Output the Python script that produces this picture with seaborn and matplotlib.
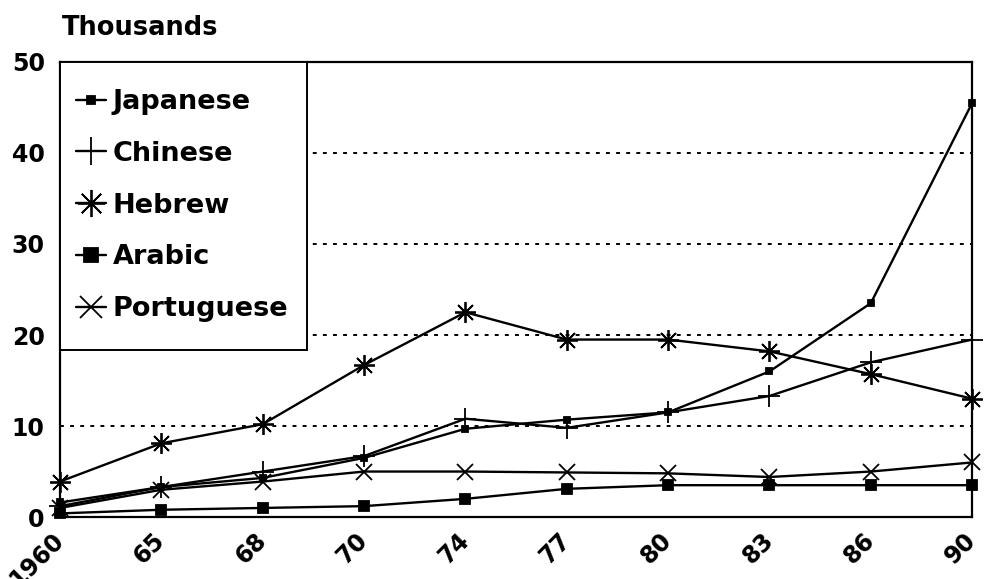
import matplotlib
matplotlib.use("Agg")
import matplotlib.pyplot as plt
from matplotlib.patches import Rectangle
import seaborn as sns

# values, thousands
years = ["1960", "65", "68", "70", "74", "77", "80", "83", "86", "90"]
japanese = [1.6, 3.3, 4.3, 6.5, 9.7, 10.7, 11.5, 16.0, 23.5, 45.5]
chinese = [1.2, 3.3, 5.0, 6.7, 10.8, 9.8, 11.5, 13.3, 17.0, 19.5]
hebrew = [3.9, 8.1, 10.2, 16.7, 22.5, 19.5, 19.5, 18.2, 15.7, 13.0]
arabic = [0.4, 0.8, 1.0, 1.2, 2.0, 3.1, 3.5, 3.5, 3.5, 3.5]
portuguese = [1.0, 3.0, 3.9, 5.0, 5.0, 4.9, 4.8, 4.4, 5.0, 6.0]

sns.set_style("white")
plt.rcParams["font.family"] = ["DejaVu Sans"]
plt.rcParams["font.weight"] = "bold"
plt.rcParams["text.color"] = "black"
plt.rcParams["xtick.color"] = "black"
plt.rcParams["ytick.color"] = "black"

fig = plt.figure(figsize=(9.84, 5.79), dpi=100)
ax = fig.add_axes([0.061, 0.107, 0.927, 0.786])

pos = list(range(len(years)))
series = [
    ("Japanese", japanese, "s", 4),
    ("Chinese", chinese, "+", 16),
    ("Hebrew", hebrew, (8, 2, 0), 15),
    ("Arabic", arabic, "s", 7.5),
    ("Portuguese", portuguese, "x", 12),
]
for name, vals, m, ms in series:
    sns.lineplot(x=pos, y=vals, ax=ax, color="black", linewidth=1.7,
                 marker=m, markersize=ms, markeredgewidth=1.3,
                 markeredgecolor="black", label=name, clip_on=False, zorder=3)

ax.set_xlim(0, len(years) - 1)
ax.set_ylim(0, 50)
ax.set_yticks([0, 10, 20, 30, 40, 50])
ax.set_xticks(pos)
ax.set_xticklabels(years, rotation=45, ha="right", va="center", rotation_mode="anchor")
ax.tick_params(axis="y", length=0, labelsize=17, pad=11)
ax.tick_params(axis="x", length=0, labelsize=17, pad=14)
for lab in ax.get_xticklabels() + ax.get_yticklabels():
    lab.set_fontweight("bold")

ax.grid(axis="y", color="black", linestyle=(0, (2, 3.2)), linewidth=1.4)
for s in ax.spines.values():
    s.set_color("black")
    s.set_linewidth(1.6)

fig.text(0.063, 0.94, "Thousands", fontsize=18.5, fontweight="bold")

# legend box drawn separately so it can be taller than its padding allows
ax.add_patch(Rectangle((0, 0.368), 0.271, 0.632, transform=ax.transAxes,
                       facecolor="white", edgecolor="black", linewidth=1.4,
                       zorder=4, clip_on=False))
leg = ax.legend(loc="upper left", bbox_to_anchor=(0, 0.976), borderaxespad=0,
                frameon=False, fontsize=19.5, handlelength=1.1,
                handletextpad=0.25, labelspacing=0.95, borderpad=0.6,
                markerscale=1.3)
leg.set_zorder(5)
for t in leg.get_texts():
    t.set_fontweight("bold")

fig.savefig("out.png", dpi=100)
